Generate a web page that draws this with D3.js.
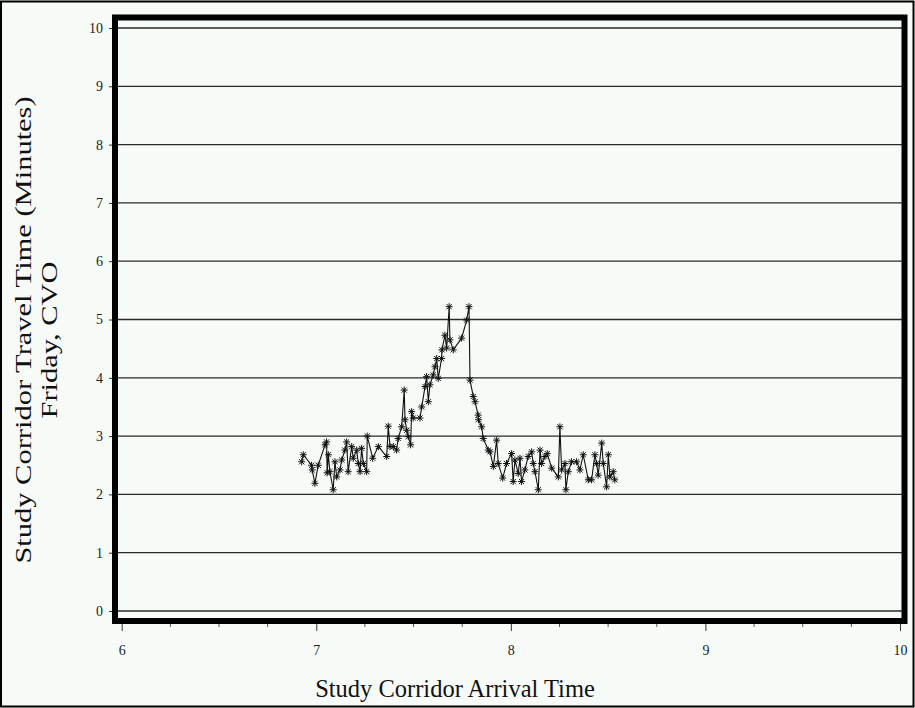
<!DOCTYPE html>
<html>
<head>
<meta charset="utf-8">
<script src="https://cdn.jsdelivr.net/npm/d3@7"></script>
<style>
  html, body { margin: 0; padding: 0; background: #f7fbf7; }
  svg { display: block; }
</style>
</head>
<body>
<svg id="chart" width="915" height="708"></svg>
<script>
// Arrival time (hours) and travel time (minutes)
const arrivalTimes = [
  6.925, 6.933, 6.976, 6.979, 6.993, 7.010, 7.045, 7.053, 7.056, 7.062,
  7.070, 7.087, 7.096, 7.105, 7.122, 7.131, 7.147, 7.156, 7.164, 7.182,
  7.190, 7.208, 7.216, 7.225, 7.233, 7.242, 7.259, 7.262, 7.290, 7.319,
  7.362, 7.370, 7.379, 7.396, 7.413, 7.421, 7.439, 7.452, 7.456, 7.465,
  7.473, 7.485, 7.490, 7.498, 7.533, 7.542, 7.559, 7.567, 7.576, 7.584,
  7.601, 7.610, 7.619, 7.627, 7.644, 7.646, 7.661, 7.670, 7.683, 7.687,
  7.704, 7.747, 7.773, 7.785, 7.790, 7.807, 7.816, 7.832, 7.834, 7.850,
  7.858, 7.884, 7.893, 7.910, 7.927, 7.935, 7.958, 7.978, 8.004, 8.012,
  8.021, 8.038, 8.047, 8.055, 8.072, 8.089, 8.107, 8.115, 8.124, 8.141,
  8.150, 8.158, 8.175, 8.187, 8.210, 8.244, 8.252, 8.261, 8.278, 8.283,
  8.295, 8.312, 8.338, 8.355, 8.372, 8.398, 8.415, 8.432, 8.441, 8.449,
  8.467, 8.475, 8.492, 8.501, 8.509, 8.526, 8.534
];
const travelTimes = [
  2.56, 2.68, 2.50, 2.42, 2.19, 2.50, 2.85, 2.90, 2.37, 2.68,
  2.39, 2.08, 2.56, 2.30, 2.42, 2.59, 2.76, 2.90, 2.39, 2.82,
  2.62, 2.76, 2.53, 2.39, 2.79, 2.53, 2.39, 3.00, 2.62, 2.82,
  2.65, 3.17, 2.82, 2.82, 2.76, 2.96, 3.16, 3.79, 3.28, 3.10,
  2.99, 2.85, 3.42, 3.31, 3.31, 3.50, 3.85, 4.02, 3.59, 3.88,
  4.05, 4.19, 4.33, 3.99, 4.33, 4.48, 4.73, 4.51, 5.22, 4.65,
  4.48, 4.68, 4.99, 5.22, 3.96, 3.68, 3.59, 3.36, 3.28, 3.16,
  2.96, 2.76, 2.73, 2.48, 2.93, 2.53, 2.28, 2.53, 2.70, 2.22,
  2.59, 2.36, 2.62, 2.22, 2.42, 2.65, 2.73, 2.53, 2.39, 2.08,
  2.76, 2.53, 2.65, 2.70, 2.45, 2.30, 3.16, 2.42, 2.53, 2.08,
  2.39, 2.56, 2.56, 2.42, 2.68, 2.25, 2.25, 2.68, 2.53, 2.33,
  2.88, 2.53, 2.13, 2.68, 2.30, 2.39, 2.25
];
const xTickValues = [6, 7, 8, 9, 10];
const yTickValues = [0, 1, 2, 3, 4, 5, 6, 7, 8, 9, 10];
const xTitle = "Study Corridor Arrival Time";
const yTitleLines = ["Study Corridor Travel Time (Minutes)", "Friday, CVO"];

const data = arrivalTimes.map((t, i) => ({ t, v: travelTimes[i] }));

const svg = d3.select("#chart");
const W = 915, H = 708;
const frame = { left: 115, right: 904.5, top: 17.5, bottom: 621 };
const serif = "'Liberation Serif', 'DejaVu Serif', serif";

const x = d3.scaleLinear().domain([6, 10]).range([121.7, 900]);
const y = d3.scaleLinear().domain([0, 10]).range([611, 28]);

svg.append("rect").attr("x", 0).attr("y", 0).attr("width", W).attr("height", H).attr("fill", "#f7fbf7");
// outer thin border
svg.append("rect").attr("x", 1).attr("y", 1.5).attr("width", W - 2.5).attr("height", H - 3)
  .attr("fill", "none").attr("stroke", "#000").attr("stroke-width", 2);

// gridlines
svg.append("g").selectAll("line").data(yTickValues).join("line")
  .attr("x1", frame.left).attr("x2", frame.right)
  .attr("y1", d => y(d)).attr("y2", d => y(d))
  .attr("stroke", "#2a2a2a").attr("stroke-width", 1.3);

// y axis ticks & labels
const yAxis = d3.axisLeft(y).tickValues(yTickValues).tickSize(4).tickPadding(6).tickFormat(d3.format("d"));
const yg = svg.append("g").attr("transform", `translate(${frame.left - 2},0)`).call(yAxis);
yg.select(".domain").remove();
yg.selectAll(".tick line").attr("stroke", "#333");
yg.selectAll(".tick text").attr("font-family", serif).attr("font-size", 14).attr("fill", "#222");

// x axis: major ticks
const xAxis = d3.axisBottom(x).tickValues(xTickValues).tickSize(7).tickPadding(14).tickFormat(d3.format("d"));
const xg = svg.append("g").attr("transform", `translate(0,${frame.bottom + 3})`).call(xAxis);
xg.select(".domain").remove();
xg.selectAll(".tick line").attr("stroke", "#333");
xg.selectAll(".tick text").attr("font-family", serif).attr("font-size", 14).attr("fill", "#222");
// minor ticks at quarter hours
const minor = d3.range(6, 10.001, 0.25).filter(v => Math.abs(v - Math.round(v)) > 0.01);
svg.append("g").selectAll("line").data(minor).join("line")
  .attr("x1", d => x(d)).attr("x2", d => x(d))
  .attr("y1", frame.bottom + 3).attr("y2", frame.bottom + 6)
  .attr("stroke", "#555").attr("stroke-width", 1);

// data line
const line = d3.line().x(d => x(d.t)).y(d => y(d.v));
svg.append("path").datum(data).attr("d", line)
  .attr("fill", "none").attr("stroke", "#111").attr("stroke-width", 1.1);

// asterisk markers
const star = "M-3.5,0H3.5M0,-3.5V3.5M-2.6,-2.6L2.6,2.6M-2.6,2.6L2.6,-2.6";
svg.append("g").selectAll("path").data(data).join("path")
  .attr("transform", d => `translate(${x(d.t)},${y(d.v)})`)
  .attr("d", star).attr("fill", "none").attr("stroke", "#111").attr("stroke-width", 1);

// thick frame
svg.append("rect")
  .attr("x", frame.left).attr("y", frame.top)
  .attr("width", frame.right - frame.left).attr("height", frame.bottom - frame.top)
  .attr("fill", "none").attr("stroke", "#000").attr("stroke-width", 6);

// titles
svg.append("text").attr("x", 455).attr("y", 697).attr("text-anchor", "middle")
  .attr("font-family", serif).attr("font-size", 24.5)
  .attr("fill", "#111").text(xTitle);

const yt1 = svg.append("text").attr("transform", "translate(31,330) rotate(-90) scale(1.27,1)")
  .attr("text-anchor", "middle").attr("font-family", serif).attr("font-size", 24)
  .attr("fill", "#111").text(yTitleLines[0]);
const yt2 = svg.append("text").attr("transform", "translate(57,340) rotate(-90) scale(1.27,1)")
  .attr("text-anchor", "middle").attr("font-family", serif).attr("font-size", 24)
  .attr("fill", "#111").text(yTitleLines[1]);
</script>
</body>
</html>
